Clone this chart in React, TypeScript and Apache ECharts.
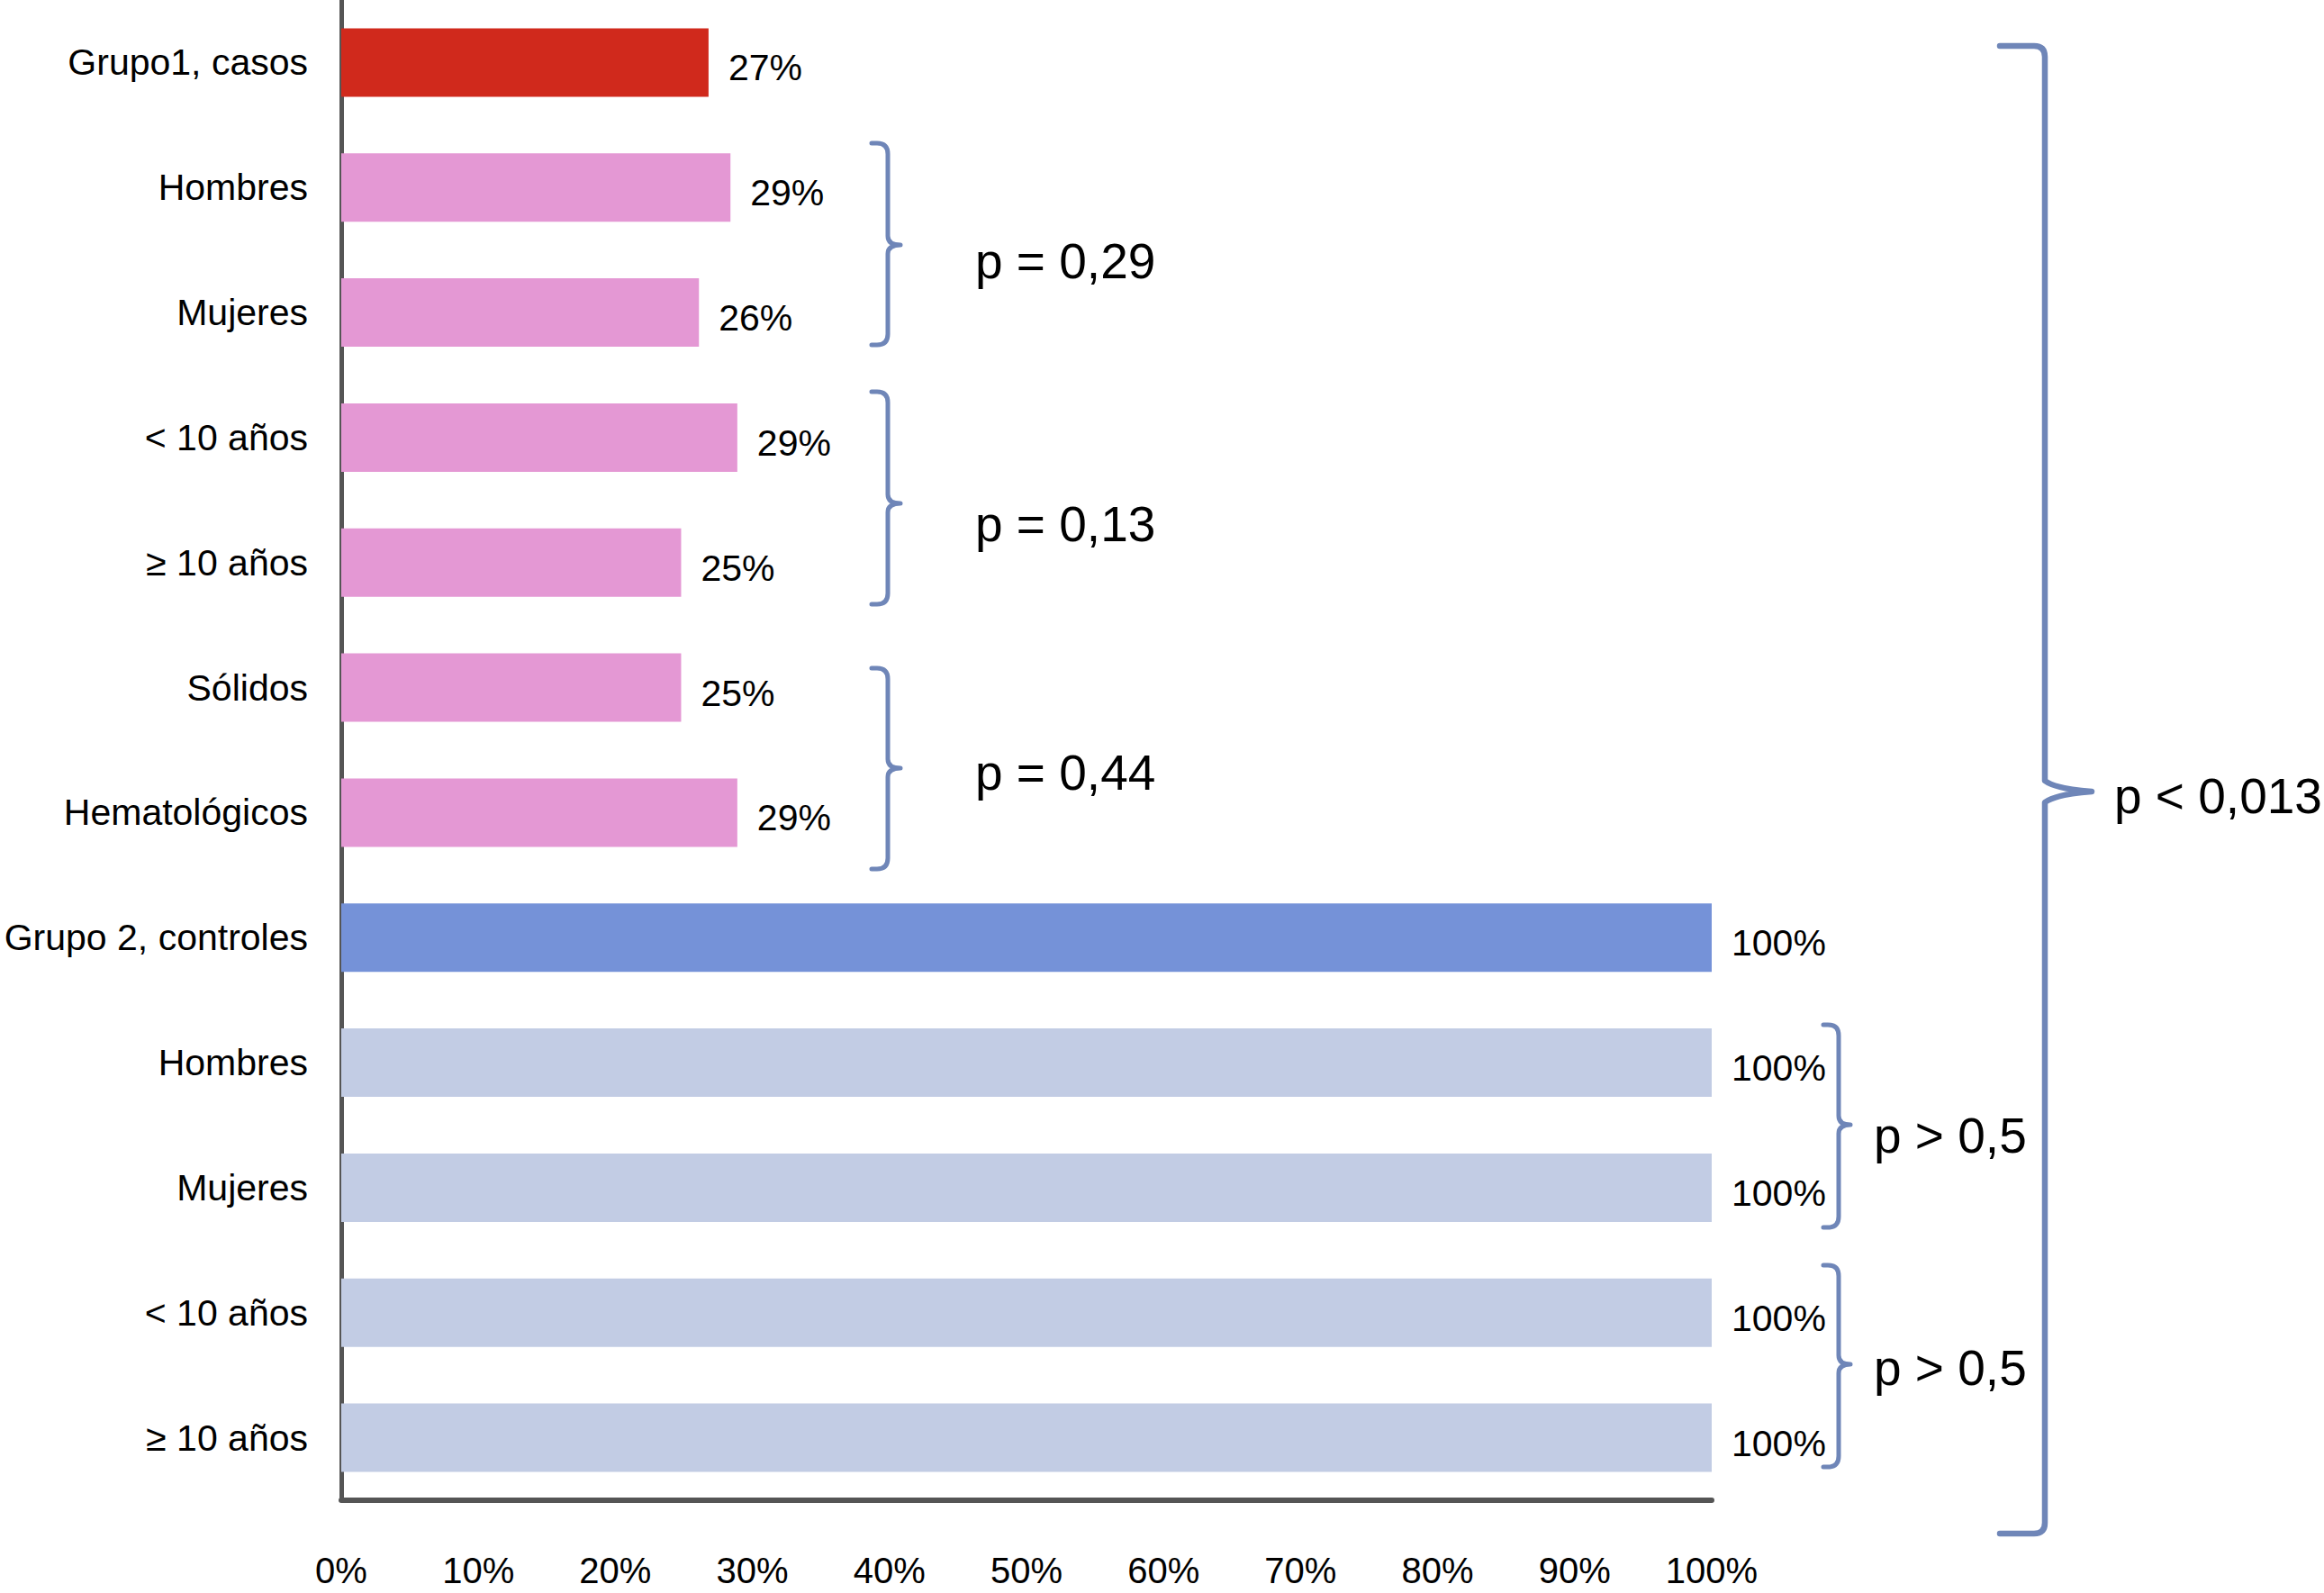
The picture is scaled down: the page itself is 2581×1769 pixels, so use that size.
import React, { useEffect, useRef } from "react";
import * as echarts from "echarts";

const categories = [
  "Grupo1, casos",
  "Hombres",
  "Mujeres",
  "< 10 años",
  "≥ 10 años",
  "Sólidos",
  "Hematológicos",
  "Grupo 2, controles",
  "Hombres",
  "Mujeres",
  "< 10 años",
  "≥ 10 años",
];
const values = [26.8, 28.4, 26.1, 28.9, 24.8, 24.8, 28.9, 100, 100, 100, 100, 100];
const valueLabels = ["27%", "29%", "26%", "29%", "25%", "25%", "29%", "100%", "100%", "100%", "100%", "100%"];
const barColors = [
  "#D0291C", "#E498D4", "#E498D4", "#E498D4", "#E498D4", "#E498D4", "#E498D4",
  "#7592D8", "#C2CCE4", "#C2CCE4", "#C2CCE4", "#C2CCE4",
];
const xTicks = [0, 10, 20, 30, 40, 50, 60, 70, 80, 90, 100];
const pTexts = ["p = 0,29", "p = 0,13", "p = 0,44", "p > 0,5", "p > 0,5", "p < 0,013"];

const FONT = "'Liberation Sans', Arial, Helvetica, sans-serif";
const BRACE_COLOR = "#6F86B8";

// brace layout: [hookX, verticalX, tipX, top, bottom, tipY]
const braces: number[][] = [
  [968, 986, 1000, 159, 383, 272],
  [968, 986, 1000, 435, 671, 559],
  [968, 986, 1000, 742, 965, 853],
  [2025, 2042, 2055, 1138, 1363, 1249],
  [2025, 2042, 2055, 1405, 1629, 1515],
  [2221, 2271, 2323, 51, 1703, 879],
];
// text positions [x, centerY]
const pPos: number[][] = [
  [1083, 290],
  [1083, 582],
  [1083, 858],
  [2081, 1261],
  [2081, 1519],
  [2348, 884],
];

function bracePath(b: number[], big: boolean) {
  const [xl, xv, xt, top, bottom, tip] = b;
  const r = 12;
  if (big) {
    return (
      `M${xl},${top} L${xv - r},${top} Q${xv},${top} ${xv},${top + r} ` +
      `L${xv},${tip - 12} Q${xv + 12},${tip - 3} ${xt},${tip} Q${xv + 12},${tip + 3} ${xv},${tip + 12} ` +
      `L${xv},${bottom - r} Q${xv},${bottom} ${xv - r},${bottom} L${xl},${bottom}`
    );
  }
  const t = 10;
  return (
    `M${xl},${top} L${xv - r},${top} Q${xv},${top} ${xv},${top + r} ` +
    `L${xv},${tip - t} Q${xv},${tip} ${xt},${tip} Q${xv},${tip} ${xv},${tip + t} ` +
    `L${xv},${bottom - r} Q${xv},${bottom} ${xv - r},${bottom} L${xl},${bottom}`
  );
}

braces.forEach((b, i) => {
  echarts.graphic.registerShape("brace" + i, echarts.graphic.extendPath(bracePath(b, i === 5), {}));
});

export default function App() {
  const ref = useRef<HTMLDivElement>(null);
  useEffect(() => {
    document.body.style.margin = "0";
    const chart = echarts.init(ref.current!, undefined, { renderer: "svg" });
    const graphics: any[] = [];
    braces.forEach((_, i) => {
      graphics.push({
        type: "brace" + i,
        x: 0,
        y: 0,
        scaleX: 1,
        scaleY: 1,
        style: { fill: "none", stroke: BRACE_COLOR, lineWidth: i === 5 ? 6.5 : 5, lineCap: "round", lineJoin: "round" },
      });
    });
    pTexts.forEach((t, i) => {
      graphics.push({
        type: "text",
        x: pPos[i][0],
        y: pPos[i][1],
        style: {
          text: t,
          fontSize: 55,
          fontFamily: FONT,
          fill: "#000",
          textVerticalAlign: "middle",
          verticalAlign: "middle",
        },
      });
    });
    chart.setOption({
      animation: false,
      backgroundColor: "#ffffff",
      grid: { left: 379, right: 680, top: 0, bottom: 103, containLabel: false },
      xAxis: {
        type: "value",
        min: 0,
        max: 100,
        interval: 10,
        axisLine: { show: true, lineStyle: { color: "#555555", width: 6 } },
        axisTick: { show: false },
        splitLine: { show: false },
        axisLabel: {
          formatter: (v: number) => (xTicks.includes(v) ? v + "%" : ""),
          fontSize: 40,
          fontFamily: FONT,
          color: "#000",
          margin: 58,
        },
      },
      yAxis: {
        type: "category",
        inverse: true,
        data: categories,
        axisLine: { show: true, lineStyle: { color: "#555555", width: 5 } },
        axisTick: { show: false },
        axisLabel: {
          interval: 0,
          fontSize: 41,
          fontFamily: FONT,
          color: "#000",
          margin: 37,
        },
      },
      series: [
        {
          type: "bar",
          barWidth: 76,
          data: values.map((v, i) => ({ value: v, itemStyle: { color: barColors[i] } })),
          label: {
            show: true,
            position: "right",
            distance: 22,
            offset: [0, 6],
            formatter: (p: any) => valueLabels[p.dataIndex],
            fontSize: 41,
            fontFamily: FONT,
            color: "#000",
          },
        },
      ],
      graphic: graphics,
    });
    return () => chart.dispose();
  }, []);
  return <div ref={ref} style={{ width: 2581, height: 1769 }} />;
}
